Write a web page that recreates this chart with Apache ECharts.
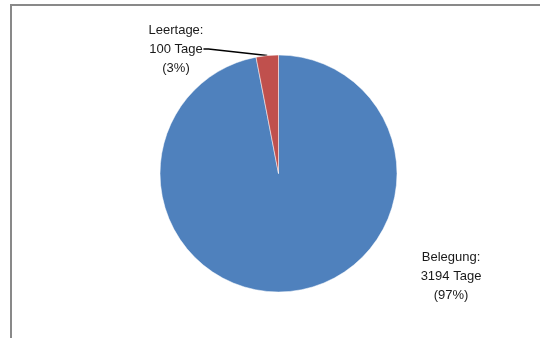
<!DOCTYPE html>
<html>
<head>
<meta charset="utf-8">
<script src="https://cdn.jsdelivr.net/npm/echarts@6/dist/echarts.min.js"></script>
<style type="text/css">
    html, body{
        margin:0;
        padding:0;
        background:#fff;
    }
    #chart{
        width:540px;
        height:338px;
    }
</style>
</head>
<body>
<div id="chart"></div>
<script type="text/javascript">
    // Werte aus dem Diagramm
    var categories = ['Belegung', 'Leertage'];
    var values = [3194, 100];
    var colors = ['#4F81BD', '#C0504D'];

    // Label-Positionen (Mitte des Textblocks)
    var labelSpots = [
        {x: 451, y: 276},
        {x: 176, y: 49}
    ];

    var seriesData = categories.map(function(name, i){
        return {
            name: name,
            value: values[i],
            itemStyle: {color: colors[i]},
            labelLine: {show: i === 1}
        };
    });

    var chart = echarts.init(document.getElementById('chart'));
    chart.setOption({
        animation: false,
        graphic: [{
            type: 'rect',
            shape: {x: 11, y: 5, width: 600, height: 400},
            style: {fill: 'none', stroke: '#898989', lineWidth: 2},
            silent: true
        }],
        series: [{
            type: 'pie',
            center: [278.5, 173.5],
            radius: 118.5,
            startAngle: 90,
            clockwise: true,
            percentPrecision: 0,
            data: seriesData,
            itemStyle: {borderColor: '#fff', borderWidth: 0.5},
            label: {
                show: true,
                position: 'outside',
                formatter: '{b}:\n{c} Tage\n({d}%)',
                fontFamily: 'Liberation Sans',
                fontSize: 13,
                lineHeight: 19,
                color: '#1a1a1a',
                align: 'center'
            },
            labelLine: {
                lineStyle: {color: '#000', width: 1.5},
                length: 5,
                length2: 5
            },
            labelLayout: function(params){
                var spot = labelSpots[params.dataIndex];
                return {
                    x: spot.x,
                    y: spot.y,
                    align: 'center',
                    verticalAlign: 'middle'
                };
            }
        }]
    });
</script>
</body>
</html>
